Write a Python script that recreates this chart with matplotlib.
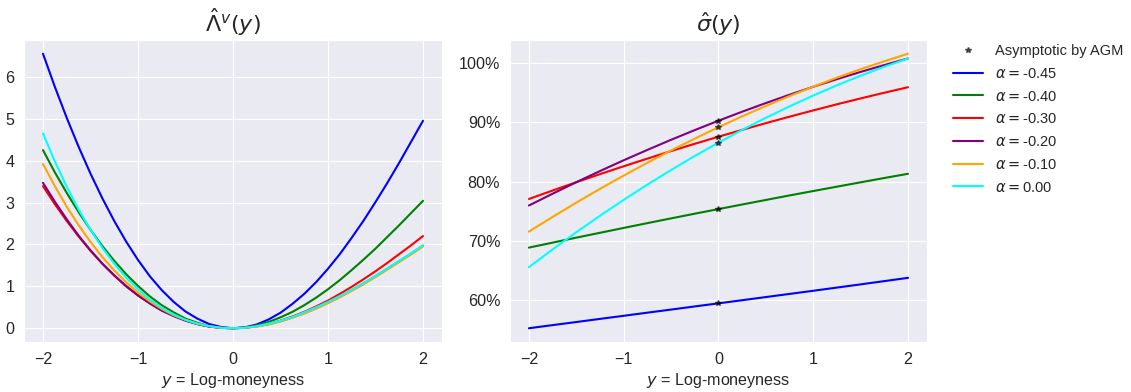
import numpy as np
import matplotlib
matplotlib.use("Agg")
import matplotlib.pyplot as plt
import seaborn as sns
from matplotlib.ticker import PercentFormatter

sns.set_style("darkgrid")
plt.rcParams['font.family'] = ['Liberation Sans', 'DejaVu Sans']

# log-moneyness grids
y_fine = [-2.0, -1.875, -1.75, -1.625, -1.5, -1.375, -1.25, -1.125, -1.0,
          -0.875, -0.75, -0.625, -0.5, -0.375, -0.25, -0.125, 0.0,
          0.125, 0.25, 0.375, 0.5, 0.625, 0.75, 0.875, 1.0,
          1.125, 1.25, 1.375, 1.5, 1.625, 1.75, 1.875, 2.0]
y_coarse = [-2.0, -1.75, -1.5, -1.25, -1.0, -0.75, -0.5, -0.25, 0.0,
            0.25, 0.5, 0.75, 1.0, 1.25, 1.5, 1.75, 2.0]

alphas = ["-0.45", "-0.40", "-0.30", "-0.20", "-0.10", "0.00"]
colors = ["blue", "green", "red", "purple", "orange", "cyan"]

# rate function Lambda^v(y), one list per alpha
lam_045 = [6.55, 5.76, 5.02, 4.33, 3.69, 3.10, 2.56, 2.07, 1.63, 1.24, 0.91, 0.63, 0.40, 0.23, 0.10, 0.03, 0.00,
           0.02, 0.09, 0.21, 0.37, 0.58, 0.82, 1.10, 1.42, 1.77, 2.16, 2.57, 3.01, 3.47, 3.95, 4.45, 4.95]
lam_040 = [4.25, 3.72, 3.23, 2.77, 2.35, 1.96, 1.61, 1.29, 1.01, 0.76, 0.55, 0.38, 0.23, 0.13, 0.05, 0.01, 0.00,
           0.02, 0.07, 0.15, 0.26, 0.39, 0.55, 0.73, 0.93, 1.15, 1.39, 1.64, 1.90, 2.18, 2.46, 2.75, 3.04]
lam_030 = [3.39, 2.96, 2.56, 2.19, 1.85, 1.54, 1.26, 1.01, 0.79, 0.60, 0.43, 0.30, 0.19, 0.10, 0.04, 0.01, 0.00,
           0.01, 0.05, 0.10, 0.18, 0.28, 0.39, 0.52, 0.66, 0.82, 0.99, 1.17, 1.36, 1.56, 1.77, 1.98, 2.20]
lam_020 = [3.47, 3.02, 2.60, 2.21, 1.86, 1.54, 1.26, 1.00, 0.78, 0.59, 0.42, 0.29, 0.18, 0.10, 0.04, 0.01, 0.00,
           0.01, 0.05, 0.10, 0.17, 0.26, 0.36, 0.48, 0.61, 0.75, 0.91, 1.07, 1.24, 1.42, 1.60, 1.78, 1.97]
lam_010 = [3.92, 3.39, 2.90, 2.46, 2.06, 1.70, 1.38, 1.10, 0.85, 0.64, 0.46, 0.31, 0.20, 0.11, 0.05, 0.01, 0.00,
           0.01, 0.04, 0.09, 0.16, 0.25, 0.35, 0.47, 0.60, 0.74, 0.89, 1.05, 1.22, 1.40, 1.58, 1.76, 1.95]
lam_000 = [4.65, 3.98, 3.38, 2.83, 2.35, 1.92, 1.54, 1.21, 0.93, 0.69, 0.49, 0.33, 0.20, 0.11, 0.05, 0.01, 0.00,
           0.01, 0.05, 0.11, 0.18, 0.27, 0.38, 0.50, 0.63, 0.77, 0.92, 1.08, 1.25, 1.43, 1.61, 1.79, 1.98]

# implied vol sigma(y), in percent
sig_045 = [55.30, 55.83, 56.35, 56.88, 57.40, 57.93, 58.45, 58.98, 59.50,
           60.03, 60.56, 61.09, 61.62, 62.16, 62.70, 63.25, 63.80]
sig_040 = [68.90, 69.74, 70.58, 71.40, 72.22, 73.03, 73.83, 74.62, 75.40,
           76.17, 76.94, 77.70, 78.44, 79.18, 79.91, 80.64, 81.35]
sig_030 = [77.10, 78.53, 79.93, 81.29, 82.62, 83.91, 85.18, 86.41, 87.60,
           88.76, 89.89, 90.98, 92.04, 93.07, 94.06, 95.02, 95.95]
sig_020 = [76.00, 77.99, 79.93, 81.81, 83.63, 85.38, 87.08, 88.72, 90.30,
           91.82, 93.28, 94.68, 96.03, 97.31, 98.53, 99.69, 100.80]
sig_010 = [71.60, 74.08, 76.49, 78.81, 81.05, 83.21, 85.29, 87.28, 89.20,
           91.04, 92.79, 94.46, 96.05, 97.56, 98.99, 100.33, 101.60]
sig_000 = [65.60, 68.60, 71.49, 74.27, 76.95, 79.52, 81.99, 84.35, 86.60,
           88.75, 90.79, 92.72, 94.55, 96.27, 97.89, 99.40, 100.80]

# at-the-money asymptotics from the AGM formula, in percent
agm_atm = [59.5, 75.4, 87.6, 90.3, 89.2, 86.6]

lams = [lam_045, lam_040, lam_030, lam_020, lam_010, lam_000]
sigs = [sig_045, sig_040, sig_030, sig_020, sig_010, sig_000]

fig = plt.figure(figsize=(11.31, 3.92), dpi=100)
ax1 = fig.add_axes([0.0212, 0.1276, 0.3696, 0.7704])
ax2 = fig.add_axes([0.4509, 0.1276, 0.3687, 0.7704])

for lam, c in zip(lams, colors):
    ax1.plot(y_fine, lam, color=c, lw=1.5)

ax2.plot([0.0] * len(agm_atm), agm_atm, 'k*', ms=4, alpha=0.6, zorder=3,
         label="Asymptotic by AGM")
for sig, c, a in zip(sigs, colors, alphas):
    ax2.plot(y_coarse, sig, color=c, lw=1.5, label=r"$\alpha = $" + a)

ax1.set_title(r"$\hat{\Lambda}^v(y)$", fontsize=16)
ax2.set_title(r"$\hat{\sigma}(y)$", fontsize=16)
for ax in (ax1, ax2):
    ax.set_xlabel(r"$y$ = Log-moneyness", fontsize=11.6, labelpad=3)
    ax.set_xticks([-2, -1, 0, 1, 2])
    ax.tick_params(labelsize=11.6)

ax2.set_yticks([60, 70, 80, 90, 100])
ax2.yaxis.set_major_formatter(PercentFormatter(xmax=100, decimals=0))

ax2.legend(loc="upper left", bbox_to_anchor=(1.03, 1.03), frameon=False,
           fontsize=10.5, handlelength=2.1, labelspacing=0.6)

fig.savefig("out.png", dpi=100)
